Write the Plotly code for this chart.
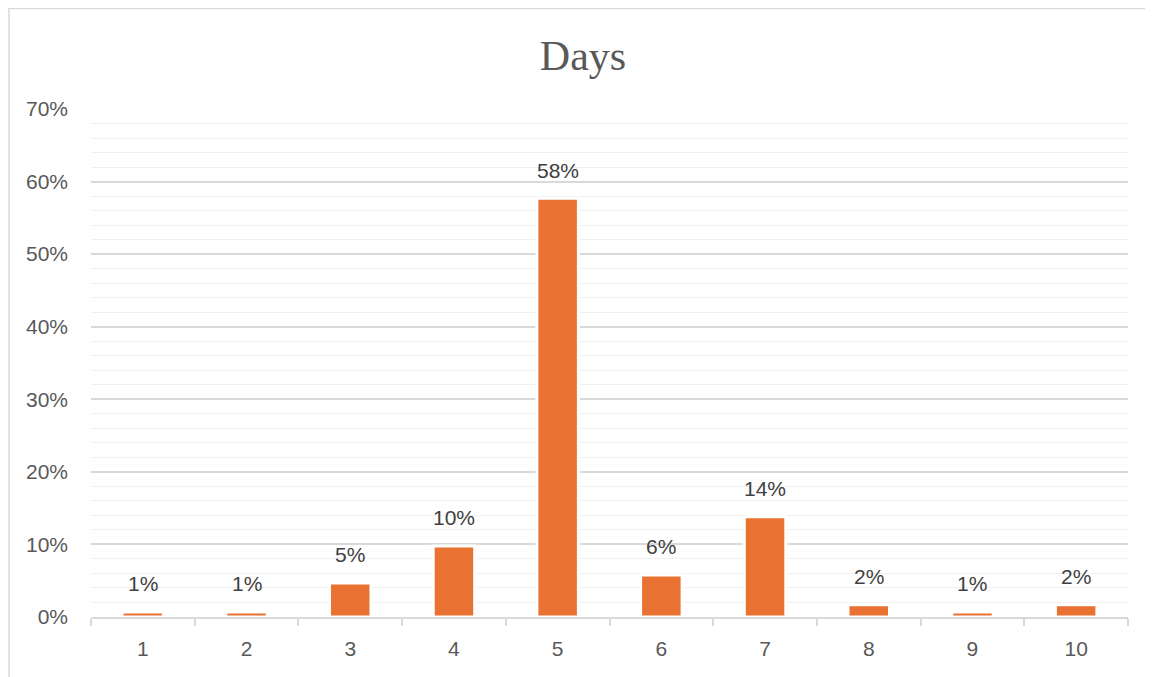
import plotly.graph_objects as go

categories = ["1", "2", "3", "4", "5", "6", "7", "8", "9", "10"]
values = [0.007, 0.007, 0.047, 0.098, 0.577, 0.058, 0.138, 0.017, 0.007, 0.017]
labels = ["1%", "1%", "5%", "10%", "58%", "6%", "14%", "2%", "1%", "2%"]
title_text = "Days"

# page body has an 8px margin; figure sized to fit the window
W, H = 1145, 669
L, R, T, B = 83, 25, 101, 60
pw, ph = W - L - R, H - T - B
FS = 21

fig = go.Figure()
fig.add_trace(go.Bar(
    x=categories, y=values,
    marker=dict(color="#E97132", line=dict(color="white", width=3)),
    width=0.4,
    hoverinfo="skip",
))

for i, (v, t) in enumerate(zip(values, labels)):
    fig.add_annotation(x=i, y=v, text=t, showarrow=False, xref="x", yref="y",
                       yanchor="middle", yshift=28,
                       font=dict(family="Liberation Sans, Arial", size=FS, color="#404040"))

# outer chart frame
fig.add_shape(type="rect", xref="paper", yref="paper",
              x0=(1 - L) / pw, x1=(W + 20 - L) / pw,
              y0=-(B + 20) / ph, y1=(H - 0.5 - B) / ph,
              line=dict(color="#d9d9d9", width=1.5), fillcolor="rgba(0,0,0,0)", layer="below")

fig.update_layout(
    width=W, height=H,
    margin=dict(l=L, r=R, t=T, b=B),
    paper_bgcolor="white", plot_bgcolor="white",
    showlegend=False,
    title=dict(text=title_text, x=(583 - 8) / W, xanchor="center", y=1 - 47 / H, yanchor="middle",
               font=dict(family="Liberation Serif, Times New Roman", size=42, color="#595959")),
    font=dict(family="Liberation Sans, Arial", size=FS, color="#595959"),
    bargap=0.6,
)
fig.update_yaxes(range=[0, 0.7], dtick=0.1, tickformat=".0%",
                 showgrid=True, gridcolor="#d9d9d9", gridwidth=1.5,
                 minor=dict(dtick=0.02, showgrid=True, gridcolor="#f0f0f0", gridwidth=1),
                 zeroline=False, showline=False, ticks="",
                 ticklabelstandoff=22,
                 tickfont=dict(family="Liberation Sans, Arial", size=FS, color="#595959"))
fig.update_xaxes(type="category", range=[-0.5, 9.5],
                 showline=True, linecolor="#d9d9d9", linewidth=1.5,
                 ticks="outside", tickson="boundaries", ticklen=7, tickcolor="#d9d9d9", tickwidth=1.5,
                 showgrid=False, ticklabelstandoff=12,
                 tickfont=dict(family="Liberation Sans, Arial", size=FS, color="#595959"))

fig.write_html("out.html")
